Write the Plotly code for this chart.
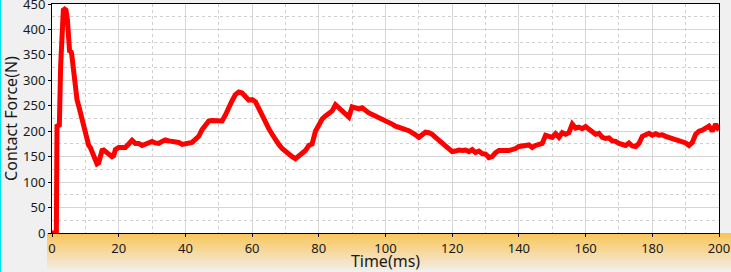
import plotly.graph_objects as go

time_ms = [0, 0.5, 1.0, 1.3, 1.5, 1.8, 2.2, 2.6, 3.0, 3.4, 3.8, 4.2, 4.6, 5.0, 5.3, 5.6, 5.9, 6.2, 6.6, 7.0, 7.5, 8.0, 8.5, 9.0, 9.5,
           10.0, 10.5, 11.0, 11.5, 12.0, 12.5, 13.0, 13.5, 14.0, 14.5, 15.0, 15.5, 16.0, 17.0, 18.0, 18.5, 19.0, 20.0, 21.0,
           22.0, 23.0, 24.0, 25.0, 26.0, 27.0, 28.0, 29.0, 30.0, 31.0, 32.0, 33.0, 34.0, 35.0, 36.0, 37.0, 38.0, 39.0, 40.0,
           41.0, 42.0, 43.0, 44.0, 45.0, 46.0, 47.0, 48.0, 49.0, 50.0, 51.0, 52.0, 53.0, 54.0, 55.0, 56.0, 57.0, 58.0, 59.0,
           60.0, 61.0, 62.0, 63.0, 64.0, 65.0, 66.0, 67.0, 68.0, 69.0, 70.0, 71.0, 72.0, 73.0, 74.0, 75.0, 76.0, 77.0, 78.0,
           79.0, 80.0, 81.0, 82.0, 83.0, 84.0, 85.0, 86.0, 87.0, 88.0, 88.6, 89.0, 90.0, 91.0, 92.0, 93.0, 94.0, 95.0, 96.0,
           97.0, 98.0, 99.0, 100.0, 101.0, 102.0, 103.0, 104.0, 105.0, 106.0, 107.0, 108.0, 109.0, 110.0, 111.0, 112.0, 113.0,
           114.0, 115.0, 116.0, 117.0, 118.0, 119.0, 120.0, 121.0, 122.0, 123.0, 124.0, 125.0, 126.0, 127.0, 128.0, 129.0,
           130.0, 130.5, 131.0, 132.0, 133.0, 134.0, 135.0, 136.0, 137.0, 138.0, 139.0, 140.0, 141.0, 142.0, 143.0, 144.0,
           145.0, 146.0, 147.0, 148.0, 149.0, 150.0, 151.0, 152.0, 153.0, 154.0, 155.0, 156.0, 157.0, 158.0, 159.0, 160.0,
           161.0, 162.0, 163.0, 164.0, 165.0, 166.0, 167.0, 168.0, 169.0, 170.0, 171.0, 172.0, 173.0, 174.0, 175.0, 176.0,
           177.0, 178.0, 179.0, 180.0, 181.0, 182.0, 183.0, 184.0, 185.0, 186.0, 187.0, 188.0, 189.0, 190.0, 191.0, 192.0,
           193.0, 194.0, 195.0, 196.0, 197.0, 198.0, 199.0, 200.0]

force_n = [0, 0, 0, 0, 210, 212, 212, 330, 410, 438, 440, 438, 420, 370, 355, 358, 352, 335, 305, 282, 262, 250, 238, 226, 212,
           196, 182, 172, 168, 160, 150, 142, 136, 138, 150, 162, 163, 160, 155, 150, 152, 164, 168, 167,
           168, 175, 182, 176, 176, 172, 175, 177, 180, 177, 176, 180, 183, 181, 180, 178, 178, 174, 175,
           176, 178, 184, 190, 203, 213, 220, 221, 220, 220, 220, 232, 248, 260, 272, 277, 275, 266, 261,
           262, 258, 245, 230, 216, 205, 194, 183, 174, 166, 160, 155, 150, 146, 151, 158, 162, 172, 175, 200,
           214, 224, 230, 235, 240, 252, 246, 240, 232, 228, 228, 248, 246, 244, 246, 240, 236, 233, 230,
           228, 225, 221, 218, 214, 210, 207, 206, 203, 201, 198, 193, 188, 192, 198, 197, 194,
           188, 182, 178, 173, 166, 160, 161, 163, 162, 163, 160, 164, 158, 161, 156, 155, 152,
           148, 150, 158, 162, 163, 162, 162, 163, 166, 170, 172, 172, 173, 168, 172, 173,
           176, 192, 190, 188, 195, 188, 197, 194, 197, 214, 206, 208, 205, 209, 204, 198,
           194, 196, 188, 186, 187, 181, 180, 176, 174, 172, 177, 171, 170, 176, 190, 194,
           196, 192, 195, 192, 193, 190, 188, 186, 184, 182, 181, 177, 172, 178, 194, 200,
           202, 206, 210, 200, 214, 202, 213, 206]

x_ticks = [0, 20, 40, 60, 80, 100, 120, 140, 160, 180, 200]
y_ticks = [0, 50, 100, 150, 200, 250, 300, 350, 400, 450]

fig = go.Figure()
fig.add_trace(go.Scatter(x=time_ms, y=force_n, mode="lines",
                         line=dict(color="#ff0000", width=5), showlegend=False))

# orange gradient band below the plot area (styling only)
W, H = 731, 272
l, r, t, b = 52, 12, 4, 39
pw, ph = W - l - r, H - t - b
band_top, band_bot = 233, 270
x0p = (47 - l) / pw
x1p = (W - l) / pw
top_c = (250, 197, 88)
bot_c = (243, 236, 226)
n = band_bot - band_top
shapes = []
for i in range(n):
    f = i / (n - 1)
    c = tuple(int(round(top_c[k] + (bot_c[k] - top_c[k]) * f)) for k in range(3))
    y_top = (H - b - (band_top + i)) / ph
    y_bot = (H - b - (band_top + i + 1)) / ph
    shapes.append(dict(type="rect", xref="paper", yref="paper", x0=x0p, x1=x1p,
                       y0=y_bot, y1=y_top, line=dict(width=0),
                       fillcolor="rgb(%d,%d,%d)" % c, layer="below"))
shapes.append(dict(type="line", xref="paper", yref="paper", x0=-l / pw, x1=-l / pw + 0.0001,
                   y0=-b / ph, y1=(ph + t) / ph, line=dict(color="#00e5f0", width=2)))

font = dict(family="Noto Sans", size=13, color="#1a1a1a")
fig.update_layout(
    width=W, height=H,
    margin=dict(l=l, r=r, t=t, b=b, autoexpand=False),
    paper_bgcolor="#f0f0f0",
    plot_bgcolor="#ffffff",
    font=font,
    shapes=shapes,
    xaxis=dict(range=[0, 200], tickvals=x_ticks, ticks="outside", ticklen=3, tickcolor="#000",
               showline=True, linecolor="#000", linewidth=1, mirror=True,
               showgrid=True, gridcolor="#d6d6d6", gridwidth=1, zeroline=False,
               minor=dict(dtick=10, showgrid=True, gridcolor="#cfcfcf", griddash="dot", gridwidth=1),
               title=dict(text="Time(ms)", font=dict(family="Noto Sans", size=16, color="#1a1a1a"), standoff=3),
               tickfont=font, automargin=False),
    yaxis=dict(range=[0, 450], tickvals=y_ticks, ticks="outside", ticklen=3, tickcolor="#000",
               showline=True, linecolor="#000", linewidth=1, mirror=True,
               showgrid=True, gridcolor="#d6d6d6", gridwidth=1, zeroline=False,
               minor=dict(dtick=25, showgrid=True, gridcolor="#cfcfcf", griddash="dot", gridwidth=1),
               title=dict(text="Contact Force(N)", font=dict(family="Noto Sans", size=16, color="#1a1a1a"), standoff=4),
               tickfont=font, automargin=False, ticklabeloverflow="allow"),
)
fig.write_html("out.html")
